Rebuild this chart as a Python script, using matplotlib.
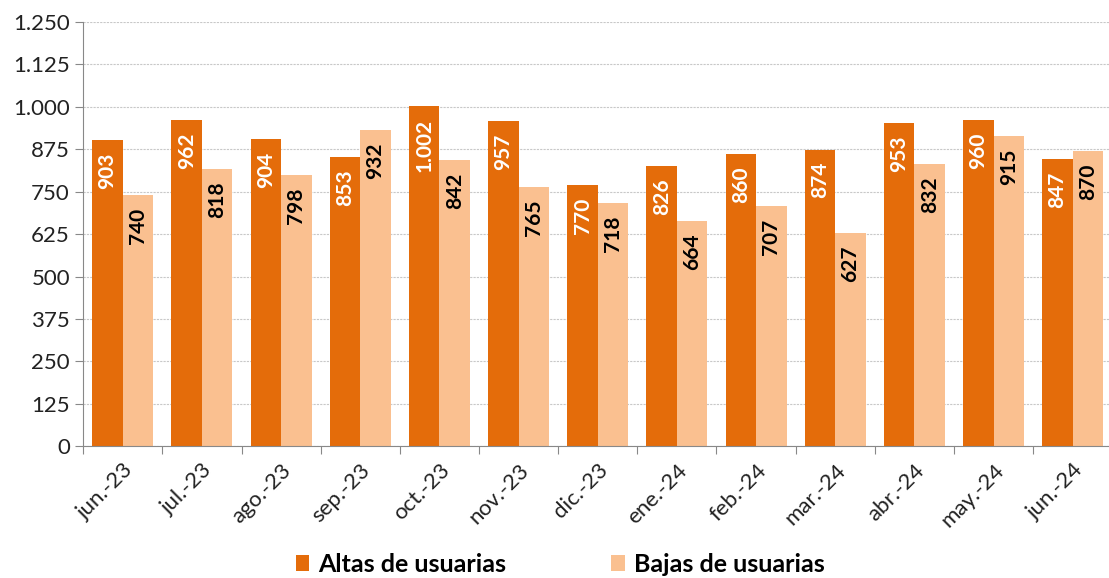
import matplotlib
matplotlib.use("Agg")
import matplotlib.pyplot as plt
import numpy as np
from matplotlib.ticker import FuncFormatter, MultipleLocator

categories = ["jun.-23", "jul.-23", "ago.-23", "sep.-23", "oct.-23", "nov.-23", "dic.-23",
              "ene.-24", "feb.-24", "mar.-24", "abr.-24", "may.-24", "jun.-24"]
altas = [903, 962, 904, 853, 1002, 957, 770, 826, 860, 874, 953, 960, 847]
bajas = [740, 818, 798, 932, 842, 765, 718, 664, 707, 627, 832, 915, 870]
series_names = ["Altas de usuarias", "Bajas de usuarias"]

c_alta = "#E46C0A"
c_baja = "#FAC090"

plt.rcParams['font.family'] = ['Lato', 'DejaVu Sans']

fig = plt.figure(figsize=(11.09, 5.78), dpi=100)
ax = fig.add_axes([0.075, 0.228, 0.928, 0.734])

x = np.arange(len(categories))
w = 0.385
b1 = ax.bar(x - w/2, altas, w, color=c_alta, label=series_names[0])
b2 = ax.bar(x + w/2, bajas, w, color=c_baja, label=series_names[1])

def fmt(v, pos=None):
    return f"{int(v):,}".replace(",", ".")

for xi, v in zip(x, altas):
    ax.annotate(fmt(v), (xi - w/2, v), xytext=(0, -9), textcoords='offset points',
                rotation=90, ha='center', va='top', color='white',
                fontsize=15, fontweight='bold')
for xi, v in zip(x, bajas):
    ax.annotate(fmt(v), (xi + w/2, v), xytext=(0, -9), textcoords='offset points',
                rotation=90, ha='center', va='top', color='black',
                fontsize=15, fontweight='bold')

ax.set_xlim(-0.5, len(categories) - 0.5)
ax.set_ylim(0, 1250)
ax.yaxis.set_major_locator(MultipleLocator(125))
ax.yaxis.set_major_formatter(FuncFormatter(fmt))
ax.grid(axis='y', color='#C8C8C8', linestyle=(0, (2, 1)), linewidth=0.8)
ax.set_axisbelow(True)

ax.set_xticks(np.arange(len(categories) + 1) - 0.5, minor=False)
ax.set_xticklabels([])
ax.set_xticks(x, minor=True)
ax.set_xticklabels(categories, minor=True, rotation=45, ha='right', rotation_mode='anchor',
                   fontsize=16, color='#222222')
ax.tick_params(axis='x', which='major', length=6, color='#888888')
ax.tick_params(axis='x', which='minor', length=0, pad=10)
ax.tick_params(axis='y', length=6, color='#888888', labelsize=16, labelcolor='#222222')

for s in ['top', 'right']:
    ax.spines[s].set_visible(False)
ax.spines['left'].set_color('#888888')
ax.spines['bottom'].set_color('#888888')

leg = fig.legend(handles=[b1, b2], labels=series_names, loc='lower center',
                 bbox_to_anchor=(0.505, -0.035), ncol=2, frameon=False,
                 prop={'weight': 'bold', 'size': 18}, handlelength=0.55, handleheight=0.6,
                 handletextpad=0.35, columnspacing=4.2)

fig.savefig("out.png", dpi=100)
